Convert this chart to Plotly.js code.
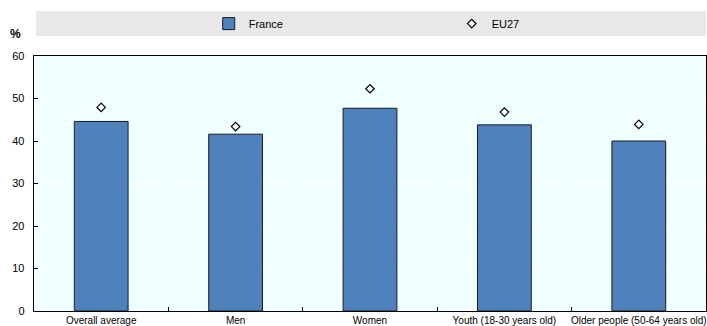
<!DOCTYPE html>
<html>
<head>
<meta charset="utf-8">
<script src="https://cdn.plot.ly/plotly-3.0.1.min.js"></script>
<style>html,body{margin:0;padding:0;background:#fff;overflow:hidden;}#chart{width:707px;height:326px;}</style>
</head>
<body>
<div id="chart"></div>
<script>
const categories = ["Overall average", "Men", "Women", "Youth (18-30 years old)", "Older people (50-64 years old)"];
const franceValues = [44.6, 41.6, 47.7, 43.8, 40.0];
const eu27Values = [47.9, 43.4, 52.3, 46.8, 43.9];
const yTickValues = [0, 10, 20, 30, 40, 50, 60];

const FONT = "'Liberation Sans Narrow', 'Arial Narrow', 'Liberation Sans', Arial, sans-serif";
const FONT_REG = "'Liberation Sans', Arial, sans-serif";

const traces = [
  {
    type: "bar",
    name: "France",
    x: categories,
    y: franceValues,
    width: 0.4,
    marker: {color: "#4F81BD", line: {color: "#1a1a1a", width: 1}},
    hoverinfo: "x+y"
  },
  {
    type: "scatter",
    mode: "markers",
    name: "EU27",
    x: categories,
    y: eu27Values,
    marker: {symbol: "diamond", size: 6.5, color: "#ffffff", line: {color: "#000000", width: 1.2}},
    hoverinfo: "x+y"
  }
];

const layout = {
  width: 707,
  height: 326,
  margin: {l: 34, r: 1, t: 56, b: 15, pad: 0},
  paper_bgcolor: "#ffffff",
  plot_bgcolor: "#F0FFFF",
  font: {family: FONT, size: 11, color: "#000"},
  showlegend: true,
  legend: {
    orientation: "h",
    x: 0.260, xanchor: "left",
    y: 1.127, yanchor: "middle",
    bgcolor: "rgba(0,0,0,0)",
    font: {family: FONT, size: 11, color: "#000"},
    entrywidth: 198, entrywidthmode: "pixels",
    itemclick: false, itemdoubleclick: false
  },
  bargap: 0.6,
  xaxis: {
    type: "category",
    tickson: "boundaries",
    ticks: "inside",
    ticklen: 4,
    tickcolor: "#000",
    tickangle: 0,
    showline: true, linecolor: "#000", linewidth: 1.3, mirror: true,
    showgrid: true, gridcolor: "#ffffff", gridwidth: 1,
    tickfont: {family: FONT, size: 10, color: "#000"},
    automargin: false,
    fixedrange: true
  },
  yaxis: {
    range: [0, 60],
    tickvals: yTickValues,
    ticks: "inside",
    ticklen: 4,
    tickcolor: "#000",
    showline: true, linecolor: "#000", linewidth: 1.3, mirror: true,
    showgrid: true, gridcolor: "#ffffff", gridwidth: 1,
    zeroline: false,
    tickfont: {family: FONT, size: 11, color: "#000"},
    ticklabelstandoff: 6,
    automargin: false,
    fixedrange: true
  },
  shapes: [
    {type: "rect", xref: "paper", yref: "paper", x0: 0.003, x1: 1.0, y0: 1.078, y1: 1.176,
     fillcolor: "#E8E8E8", line: {width: 0}, layer: "below"}
  ],
  annotations: [
    {xref: "paper", yref: "paper", x: -0.027, y: 1.086, xanchor: "center", yanchor: "middle",
     text: "<b>%</b>", showarrow: false, font: {family: FONT_REG, size: 12, color: "#000"}}
  ]
};

Plotly.newPlot("chart", traces, layout, {displayModeBar: false, staticPlot: true});
</script>
</body>
</html>
